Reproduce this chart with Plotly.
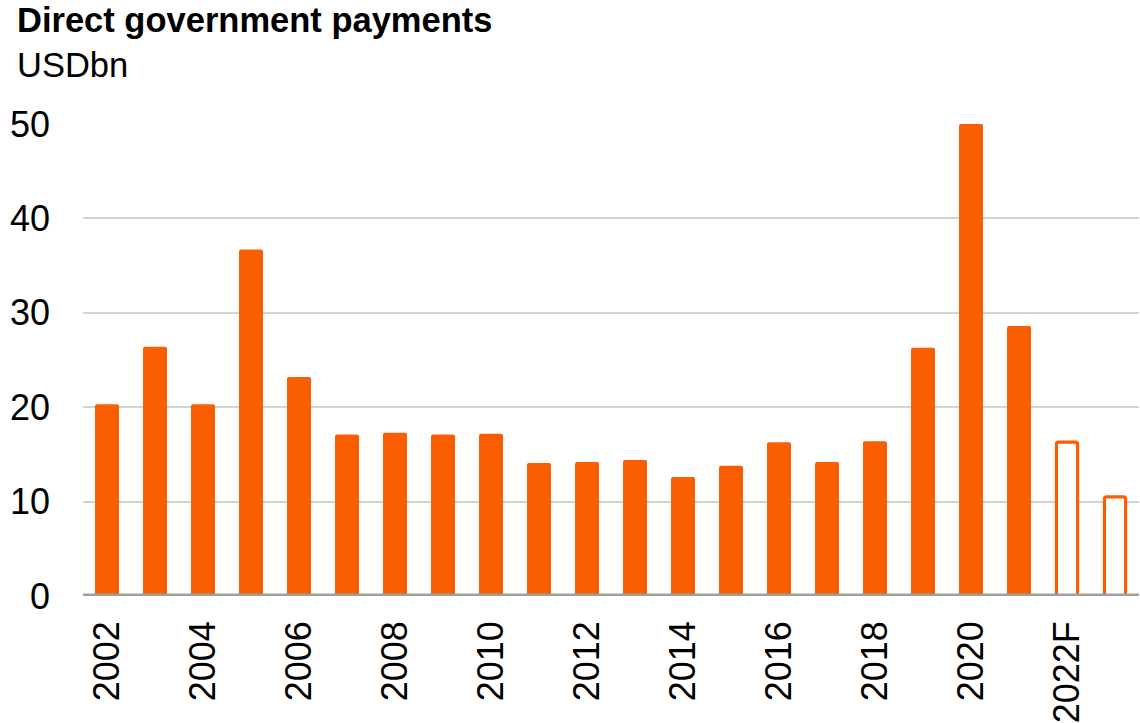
import plotly.graph_objects as go

# ---- data ----
years = [str(y) for y in range(2002, 2022)] + ["2022F", "2023F"]
payments = [20.3, 26.4, 20.3, 36.7, 23.2, 17.1, 17.3, 17.1, 17.2, 14.1,
            14.2, 14.4, 12.6, 13.8, 16.3, 14.2, 16.4, 26.3, 50.0, 28.6,
            16.3, 10.5]
forecast = [False] * 20 + [True, True]
tick_labels = ["2002", "2004", "2006", "2008", "2010", "2012", "2014",
               "2016", "2018", "2020", "2022F"]

title = "Direct government payments"
subtitle = "USDbn"

ORANGE = "#FA5E00"
FONT = "Arial, Liberation Sans, sans-serif"

actual_vals = [v if not f else None for v, f in zip(payments, forecast)]
fc_vals = [v if f else None for v, f in zip(payments, forecast)]

fig = go.Figure()
fig.add_trace(go.Bar(
    x=years, y=actual_vals, width=0.5,
    marker=dict(color=ORANGE, line=dict(width=0), cornerradius=2),
    hoverinfo="x+y", showlegend=False,
))
fig.add_trace(go.Bar(
    x=years, y=fc_vals, width=0.44,
    marker=dict(color="white", line=dict(color=ORANGE, width=3.2), cornerradius=2),
    hoverinfo="x+y", showlegend=False,
))

W, H = 1140, 723
L, R, T, B = 83, 1, 124, 127
pw = W - L - R
ph = H - T - B

fig.update_layout(
    width=W, height=H,
    margin=dict(l=L, r=R, t=T, b=B, autoexpand=False),
    paper_bgcolor="white", plot_bgcolor="white",
    barmode="overlay",
    font=dict(family=FONT, size=36, color="black"),
    showlegend=False,
    xaxis=dict(
        type="category", categoryorder="array", categoryarray=years,
        tickmode="array", tickvals=tick_labels, ticktext=tick_labels,
        tickangle=-90, showgrid=False, showline=False, zeroline=False,
        ticks="", ticklabelstandoff=17, automargin=False,
        tickfont=dict(family=FONT, size=36, color="black"),
        range=[-0.5, len(years) - 0.5],
    ),
    yaxis=dict(
        range=[0, 50], tickvals=[0, 10, 20, 30, 40, 50],
        showgrid=True, gridcolor="#D3D3D3", gridwidth=2,
        zeroline=False, showline=False, ticks="",
        ticklabelstandoff=32, automargin=False,
        tickfont=dict(family=FONT, size=36, color="black"),
    ),
    annotations=[
        dict(text="<b>" + title + "</b>", xref="paper", yref="paper",
             x=(15 - L) / pw, y=(596 - 20) / ph, xanchor="left", yanchor="middle",
             showarrow=False, font=dict(family=FONT, size=34.5, color="black")),
        dict(text=subtitle, xref="paper", yref="paper",
             x=(15 - L) / pw, y=(596 - 65) / ph, xanchor="left", yanchor="middle",
             showarrow=False, font=dict(family=FONT, size=34.5, color="black")),
    ],
    shapes=[
        dict(type="line", xref="paper", yref="y", x0=0, x1=1, y0=0, y1=0,
             line=dict(color="#A0A0A0", width=5), layer="above"),
    ],
)

fig.write_html(
    "out.html",
    config={"displayModeBar": False},
    post_script="document.body.style.margin='0';document.body.style.overflow='hidden';",
)
